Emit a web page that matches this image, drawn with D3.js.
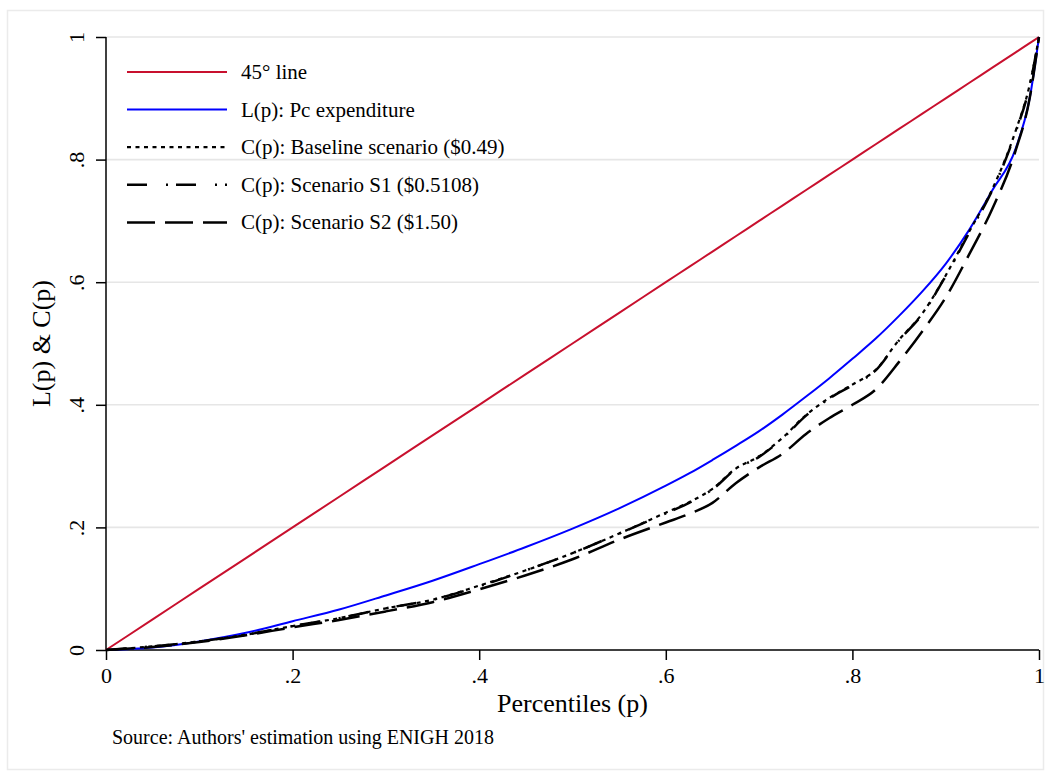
<!DOCTYPE html>
<html><head><meta charset="utf-8">
<script src="https://cdn.jsdelivr.net/npm/d3@7"></script>
<style>body{margin:0;background:#fff}text{font-family:"Liberation Serif","Times New Roman",serif;}</style>
</head><body>
<svg id="c" width="1051" height="771"></svg>
<script>
// ---- data ----
const percentiles = [0,0.05,0.1,0.15,0.2,0.25,0.3,0.35,0.4,0.45,0.5,0.55,0.6,0.625,0.65,0.675,0.7,0.725,0.75,0.775,0.8,0.825,0.85,0.875,0.9,0.925,0.95,0.975,0.99,1];
const line45 = [0,0.05,0.1,0.15,0.2,0.25,0.3,0.35,0.4,0.45,0.5,0.55,0.6,0.625,0.65,0.675,0.7,0.725,0.75,0.775,0.8,0.825,0.85,0.875,0.9,0.925,0.95,0.975,0.99,1];
const lorenzPc = [0,0.004,0.014,0.028,0.047,0.066,0.089,0.113,0.140,0.168,0.198,0.231,0.268,0.288,0.310,0.333,0.357,0.384,0.413,0.443,0.475,0.508,0.545,0.585,0.630,0.685,0.750,0.818,0.900,1];
const concBaseline = [0,0.006,0.014,0.025,0.039,0.052,0.068,0.082,0.105,0.130,0.158,0.190,0.224,0.241,0.263,0.296,0.316,0.346,0.383,0.411,0.433,0.457,0.506,0.549,0.611,0.682,0.752,0.847,0.922,1];
const concS1 = [0,0.006,0.014,0.025,0.039,0.052,0.068,0.082,0.104,0.130,0.158,0.190,0.223,0.240,0.262,0.295,0.315,0.345,0.382,0.410,0.432,0.456,0.505,0.548,0.610,0.680,0.750,0.845,0.920,1];
const concS2 = [0,0.005,0.013,0.024,0.037,0.049,0.063,0.078,0.099,0.122,0.148,0.180,0.208,0.222,0.240,0.272,0.298,0.320,0.352,0.378,0.400,0.425,0.470,0.520,0.575,0.645,0.720,0.815,0.900,1];
const seriesNames = ["45° line","L(p): Pc expenditure","C(p): Baseline scenario ($0.49)","C(p): Scenario S1 ($0.5108)","C(p): Scenario S2 ($1.50)"];
const tickValues = [0,0.2,0.4,0.6,0.8,1];
const tickLabels = ["0",".2",".4",".6",".8","1"];

const seriesValues = [line45, lorenzPc, concBaseline, concS1, concS2];
const seriesStyle = [
  {color:"#c8102e", width:2, dash:null},
  {color:"#0000ff", width:2, dash:null},
  {color:"#000", width:2.2, dash:"4,4.5"},
  {color:"#000", width:2.5, dash:"20,19,2,8"},
  {color:"#000", width:2.5, dash:"28,10"}
];

const svg = d3.select("#c");
svg.append("rect").attr("x",7.5).attr("y",10.5).attr("width",1036).attr("height",759)
  .attr("fill","#fff").attr("stroke","#ebebeb").attr("stroke-width",1.5);

const x = d3.scaleLinear().domain([0,1]).range([106,1039]);
const y = d3.scaleLinear().domain([0,1]).range([650,37]);

// grid
svg.append("g").selectAll("line").data(tickValues.filter(d=>d>0)).join("line")
  .attr("x1",x(0)).attr("x2",x(1)).attr("y1",d=>y(d)).attr("y2",d=>y(d))
  .attr("stroke","#e6e6e6").attr("stroke-width",1.6);

const fmt = d => tickLabels[tickValues.indexOf(d)];

// y axis
const gy = svg.append("g").attr("transform",`translate(${x(0)},0)`)
  .call(d3.axisLeft(y).tickValues(tickValues).tickFormat(fmt).tickSize(10).tickPadding(0));
gy.select(".domain").attr("stroke","#000").attr("stroke-width",1.5).attr("d",`M0,${y(1)}V${y(0)}`);
gy.selectAll(".tick line").attr("stroke","#000").attr("stroke-width",1.5);
gy.selectAll(".tick text").attr("x",null).attr("dy",null)
  .attr("transform","translate(-22,0) rotate(-90)")
  .attr("text-anchor","middle").attr("font-size",22).attr("fill","#000")
  .style("font-family","'Liberation Serif',serif");

// x axis
const gx = svg.append("g").attr("transform",`translate(0,${y(0)})`)
  .call(d3.axisBottom(x).tickValues(tickValues).tickFormat(fmt).tickSize(10).tickPadding(0));
gx.select(".domain").attr("stroke","#000").attr("stroke-width",1.5).attr("d",`M${x(0)},0H${x(1)}`);
gx.selectAll(".tick line").attr("stroke","#000").attr("stroke-width",1.5);
gx.selectAll(".tick text").attr("y",33).attr("dy",null)
  .attr("font-size",22).attr("fill","#000").style("font-family","'Liberation Serif',serif");

// axis titles
svg.append("text").attr("x",(x(0)+x(1))/2).attr("y",712).attr("text-anchor","middle")
  .attr("font-size",26).text("Percentiles (p)");
svg.append("text").attr("transform",`translate(50,${(y(0)+y(1))/2}) rotate(-90)`).attr("text-anchor","middle")
  .attr("font-size",26).text("L(p) & C(p)");
svg.append("text").attr("x",112).attr("y",744).attr("font-size",20)
  .text("Source: Authors' estimation using ENIGH 2018");

// lines
const lineGen = d3.line().x((d,i)=>x(percentiles[i])).y(d=>y(d)).curve(d3.curveMonotoneX);
seriesValues.forEach((vals,k)=>{
  const s = seriesStyle[k];
  svg.append("path").datum(vals).attr("d",lineGen).attr("fill","none")
    .attr("stroke",s.color).attr("stroke-width",s.width)
    .attr("stroke-dasharray",s.dash).attr("stroke-linejoin","round");
});

// legend
const leg = svg.append("g");
seriesNames.forEach((name,k)=>{
  const s = seriesStyle[k];
  const yy = 72 + k*37.6;
  leg.append("line").attr("x1",127).attr("x2",227).attr("y1",yy).attr("y2",yy)
    .attr("stroke",s.color).attr("stroke-width",s.width).attr("stroke-dasharray",s.dash);
  leg.append("text").attr("x",241).attr("y",yy+7).attr("font-size",21).text(name);
});
</script>
</body></html>
